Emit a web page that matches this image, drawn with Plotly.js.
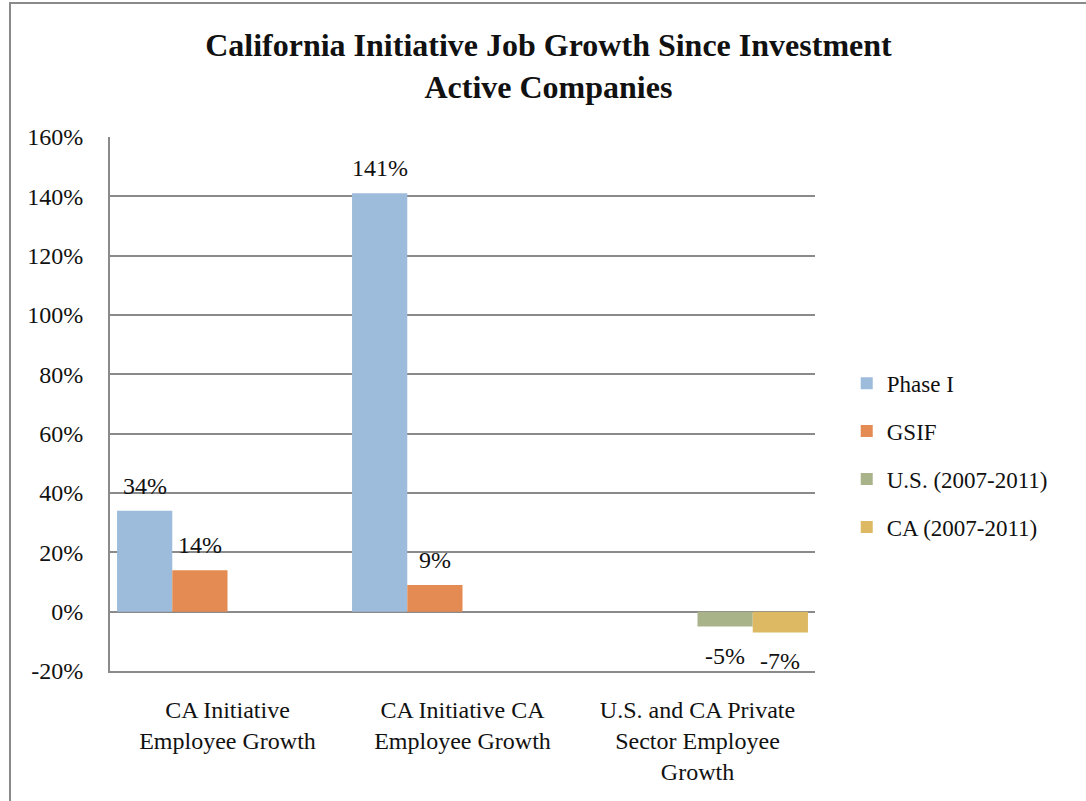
<!DOCTYPE html>
<html>
<head>
<meta charset="utf-8">
<script src="https://cdn.plot.ly/plotly-3.0.1.min.js"></script>
<style>
  html, body { margin: 0; padding: 0; background: #fff; }
  #chart { width: 1086px; height: 801px; }
  #frame { position: absolute; left: 9px; top: 2px; width: 1100px; height: 820px;
           border-left: 2px solid #8a8a8a; border-top: 2px solid #8a8a8a; pointer-events: none; }
</style>
</head>
<body>
<div id="chart"></div>
<div id="frame"></div>
<script>
const categories = [
  "CA Initiative<br>Employee Growth",
  "CA Initiative CA<br>Employee Growth",
  "U.S. and CA Private<br>Sector Employee<br>Growth"
];
const seriesNames = ["Phase I", "GSIF", "U.S. (2007-2011)", "CA (2007-2011)"];
const phase1 = [34, 141, null];
const gsif = [14, 9, null];
const us0711 = [null, null, -5];
const ca0711 = [null, null, -7];
const colors = ["#9dbbda", "#e38b52", "#a8b389", "#dcb962"];
const tickVals = [-20, 0, 20, 40, 60, 80, 100, 120, 140, 160];

const FONT = "Liberation Serif, Times New Roman, serif";
const values = [phase1, gsif, us0711, ca0711];

const traces = values.map((v, i) => ({
  type: "bar",
  name: seriesNames[i],
  x: categories,
  y: v,
  marker: { color: colors[i] },
  legendgroup: "g" + i,
  hoverinfo: "skip"
}));

// data labels, one per bar, placed at the bar's slot within its category group
const slotWidthPx = 55.3;
const annotations = [];
values.forEach((v, i) => {
  v.forEach((d, j) => {
    if (d === null) return;
    annotations.push({
      x: categories[j],
      y: d,
      xref: "x",
      yref: "y",
      text: d + "%",
      showarrow: false,
      xanchor: "center",
      yanchor: "middle",
      xshift: (i - 1.5) * slotWidthPx,
      yshift: d >= 0 ? 25 : -29,
      font: { family: FONT, size: 24, color: "#111" }
    });
  });
});

const layout = {
  width: 1086,
  height: 801,
  paper_bgcolor: "#ffffff",
  plot_bgcolor: "#ffffff",
  margin: { l: 110, r: 271, t: 137, b: 130 },
  title: {
    text: "<b>California Initiative Job Growth Since Investment<br>Active Companies</b>",
    font: { family: FONT, size: 32, color: "#111" },
    x: 0.505,
    xanchor: "center",
    yref: "container",
    y: 0.93,
    yanchor: "middle"
  },
  barmode: "group",
  bargap: 0.06,
  bargroupgap: 0,
  showlegend: true,
  legend: {
    x: 1.045,
    xanchor: "left",
    y: 0.404,
    yanchor: "middle",
    font: { family: FONT, size: 23, color: "#111" },
    traceorder: "grouped",
    tracegroupgap: 15,
    itemwidth: 30
  },
  annotations: annotations,
  xaxis: {
    type: "category",
    showgrid: false,
    showline: true,
    linecolor: "#8a8a8a",
    linewidth: 2,
    ticks: "outside",
    ticklen: 16,
    tickcolor: "rgba(0,0,0,0)",
    tickfont: { family: FONT, size: 24, color: "#111" },
    tickangle: 0,
    zeroline: false
  },
  yaxis: {
    range: [-20, 160],
    tickvals: tickVals,
    ticktext: tickVals.map(t => t + "%"),
    showgrid: true,
    gridcolor: "#8a8a8a",
    gridwidth: 2,
    showline: true,
    linecolor: "#8a8a8a",
    linewidth: 2,
    zeroline: true,
    zerolinecolor: "#8a8a8a",
    zerolinewidth: 2,
    ticks: "outside",
    ticklen: 20,
    tickcolor: "rgba(0,0,0,0)",
    tickfont: { family: FONT, size: 24, color: "#111" }
  }
};

Plotly.newPlot("chart", traces, layout, { staticPlot: true, displayModeBar: false });
</script>
</body>
</html>
